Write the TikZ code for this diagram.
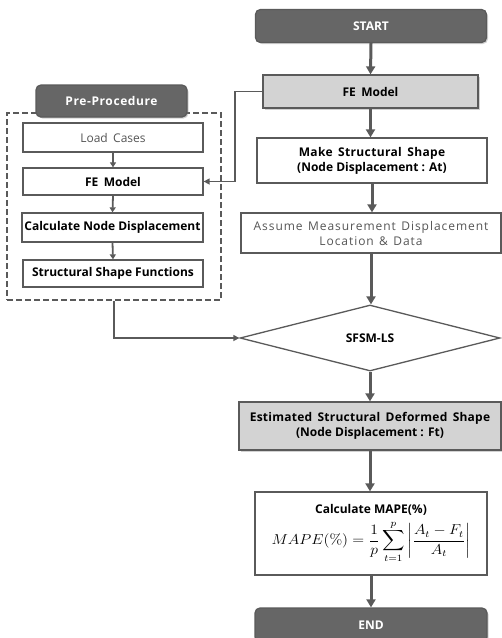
\documentclass[tikz,border=0pt]{standalone}
\usepackage{amsmath}
\usepackage{graphicx}
\usepackage[no-math]{fontspec}
\setmainfont{Open Sans}
\usetikzlibrary{shapes.geometric,arrows.meta,shadows}
\definecolor{dk}{HTML}{5A5A5A}
\definecolor{dkfill}{HTML}{666666}
\definecolor{ltfill}{HTML}{D3D3D3}
\definecolor{txt}{HTML}{555555}
\newcommand{\wsp}{\hspace{0.45em}}
\tikzset{
  base/.style={draw=dk, line width=1.3pt, align=center, inner sep=0pt, font=\fontsize{12}{15}\selectfont},
  bf/.style={font=\fontsize{12}{15}\selectfont\bfseries},
  term/.style={base, rounded corners=5pt, fill=dkfill, text=white, bf, drop shadow={shadow xshift=1.5pt, shadow yshift=-1.5pt, opacity=.35}},
  grbox/.style={base, fill=ltfill, bf, drop shadow={shadow xshift=1.5pt, shadow yshift=-1.5pt, opacity=.35}},
  wbox/.style={base, fill=white},
  big/.style={-{Triangle[length=8pt,width=9pt]}, line width=3pt, draw=dk},
  small/.style={-{Triangle[length=5pt,width=6pt]}, line width=1.8pt, draw=dk},
  thin/.style={-{Triangle[length=6pt,width=6pt]}, line width=1.4pt, draw=dk},
}
\begin{document}
\begin{tikzpicture}[x=1pt,y=-1pt]
\useasboundingbox[fill=white] (0,0) rectangle (502,638);
% right column
\node[term, minimum width=231pt, minimum height=33pt] (start) at (371,26) {START};
\node[grbox, minimum width=215pt, minimum height=33pt] (feR) at (370.5,91.5) {FE\wsp Model};
\node[wbox, bf, minimum width=230pt, minimum height=45pt] (make) at (372,160.5) {{\addfontfeature{LetterSpace=3}Make\wsp Structural\wsp Shape}\\(Node Displacement : At)};
\node[wbox, minimum width=260pt, minimum height=40pt, text=txt, font=\fontsize{12}{15}\selectfont\addfontfeature{LetterSpace=8}] (assume) at (371,233) {Assume\wsp Measurement\wsp Displacement\\Location\wsp \&\wsp Data};
\node[base, diamond, aspect=3.94, minimum width=260pt, minimum height=66pt, fill=white, bf] (sfsm) at (370,338) {SFSM-LS};
\node[grbox, minimum width=262pt, minimum height=48pt] (est) at (370,426) {{\addfontfeature{LetterSpace=2}Estimated\wsp Structural\wsp Deformed\wsp Shape}\\(Node Displacement : Ft)};
\node[wbox, minimum width=232pt, minimum height=83pt] (mape) at (371,533.5) {{\bfseries Calculate MAPE(\%)}\\[4pt]\scalebox{1.3}[1.2]{$MAPE(\%)=\dfrac{1}{p}\displaystyle\sum_{t=1}^{p}\left|\frac{A_t-F_t}{A_t}\right|$}};
\node[term, minimum width=232pt, minimum height=34pt] (end) at (371,625) {END};
% left column
\node[draw=dk, dashed, dash pattern=on 6pt off 3pt, line width=2pt, minimum width=214pt, minimum height=187pt, inner sep=0pt] (pre) at (114,206.5) {};
\node[term, minimum width=151pt, minimum height=32pt, font=\fontsize{12}{15}\selectfont\bfseries\addfontfeature{LetterSpace=5}] (prelabel) at (111.5,101) {Pre-Procedure};
\node[wbox, minimum width=180pt, minimum height=29pt, text=txt] (load) at (113,137.5) {Load\wsp Cases};
\node[wbox, bf, minimum width=180pt, minimum height=27pt] (feL) at (113,181.5) {FE\wsp Model};
\node[wbox, bf, minimum width=181pt, minimum height=29pt] (calc) at (112.5,227.5) {Calculate Node Displacement};
\node[wbox, bf, minimum width=180pt, minimum height=27pt] (ssf) at (113,273.5) {Structural Shape Functions};
% main arrows
\draw[big] (start.south) -- (feR.north);
\draw[big] (feR.south) -- (feR.south |- make.north);
\draw[big] (make.south) -- (make.south |- assume.north);
\draw[big] (assume.south) -- (assume.south |- sfsm.north);
\draw[big] (sfsm.south) -- (sfsm.south |- est.north);
\draw[big] (est.south) -- (est.south |- mape.north);
\draw[big] (mape.south) -- (mape.south |- end.north);
% left arrows
\draw[small] (load.south) -- (feL.north);
\draw[small] (feL.south) -- (calc.south |- calc.north);
\draw[small] (calc.south) -- (ssf.north);
% connectors
\draw[thin] (feR.west) -- (235,91.5) |- (feL.east);
\draw[thin] (pre.south) |- (sfsm.west);
\end{tikzpicture}
\end{document}
